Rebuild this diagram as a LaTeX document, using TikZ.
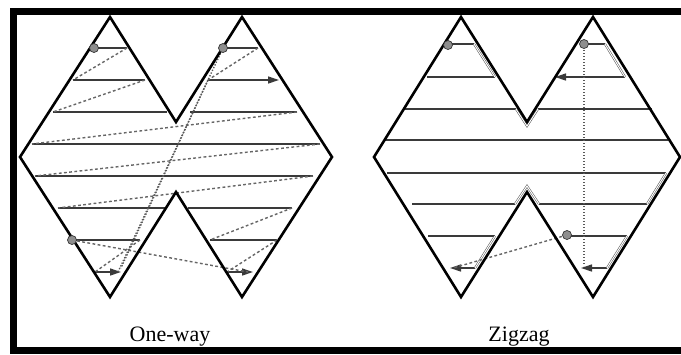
\documentclass[tikz,border=0pt]{standalone}
\usepackage{fontspec}
\setmainfont{Liberation Serif}
\usetikzlibrary{arrows.meta}
\definecolor{hatchgray}{HTML}{3A3A3A}
\definecolor{startgray}{HTML}{8E8E8E}

\begin{document}
\begin{tikzpicture}[x=1pt, y=-1pt,
    outline/.style={line width=2.6pt, black, line join=miter},
    hatch/.style={line width=1.3pt, hatchgray},
    travel/.style={line width=1.4pt, black!60, dash pattern=on 2.8pt off 2.4pt},
    jump/.style={line width=1.4pt, black!65, dash pattern=on 1.3pt off 1.7pt},
    turn/.style={draw=black!70, double=white, double distance=1pt, line width=0.5pt},
    startpt/.style={circle, draw=black!80, fill=startgray, line width=0.7pt, inner sep=0pt, minimum size=9pt},
    endarrow/.style={-{Triangle[length=11pt, width=7pt]}},
    caption/.style={font=\fontsize{22}{24}\selectfont, anchor=base}]
\useasboundingbox (0,0) rectangle (681,354);

% frame
\draw[line width=6.5pt, line join=miter] (684,11.5) -- (13.5,11.5) -- (13.5,350.5) -- (684,350.5);

% one-way
\foreach \y/\a/\b in {48/94/127, 48/223/258, 80/73/145, 112/53/167, 112/190/297,
    144/32/320, 176/35/313, 208/58/165, 208/188/292, 240/72/140, 240/210/277}
  \draw[hatch] (\a,\y) -- (\b,\y);
\draw[hatch, endarrow] (208,80) -- (279,80);
\draw[hatch, endarrow] (95,272) -- (121,272);
\draw[hatch, endarrow] (227,272) -- (253,272);

\draw[travel] (127,48) -- (73,80);
\draw[travel] (145,80) -- (53,112);
\draw[travel] (297,112) -- (32,144);
\draw[travel] (320,144) -- (35,176);
\draw[travel] (313,176) -- (58,208);
\draw[travel] (292,208) -- (210,240);
\draw[travel] (277,240) -- (227,272);
\draw[travel] (140,240) -- (95,272);
\draw[travel] (258,48) -- (208,80);
\draw[travel] (72,240) -- (248,272);
\draw[jump] (223,48) -- (118,272);
\draw[jump] (208,80) -- (121,268);

\draw[outline] (110,17) -- (176,122) -- (242,17) -- (332,157) -- (242,297)
  -- (176,192) -- (110,297) -- (20,157) -- cycle;

\node[startpt] (ow1) at (94,48) {};
\node[startpt] (ow2) at (223,48) {};
\node[startpt] (ow3) at (72,240) {};

% zigzag
\foreach \y/\a/\b in {44/448/474, 44/584/605, 77/427/495, 109/405/516, 109/538/652,
    140/385/668, 173/387/666, 204/412/515, 204/539/647, 236/428/495, 236/567/627}
  \draw[hatch] (\a,\y) -- (\b,\y);
\draw[hatch, endarrow] (625,77) -- (555,77);
\draw[hatch, endarrow] (475,268) -- (450,268);
\draw[hatch, endarrow] (607,268) -- (581,268);

\draw[turn] (474,44) -- (495,77);
\draw[turn] (605,44) -- (625,77);
\draw[turn] (516,109) -- (527,126) -- (538,109);
\draw[turn] (666,173) -- (647,204);
\draw[turn] (515,204) -- (527,186) -- (539,204);
\draw[turn] (495,236) -- (475,268);
\draw[turn] (627,236) -- (607,268);

\draw[travel] (567,235) -- (453,268);
\draw[jump, line width=1.7pt] (584,47) -- (584,266);

\draw[outline] (461,17) -- (527,122) -- (593,17) -- (680,157) -- (593,297)
  -- (527,192) -- (461,297) -- (374,157) -- cycle;

\node[startpt] (zz1) at (448,45) {};
\node[startpt] (zz2) at (584,44) {};
\node[startpt] (zz3) at (567,235) {};

\node[caption] (oneway) at (170,341) {One-way};
\node[caption] (zigzag) at (519,341) {Zigzag};
\end{tikzpicture}
\end{document}
